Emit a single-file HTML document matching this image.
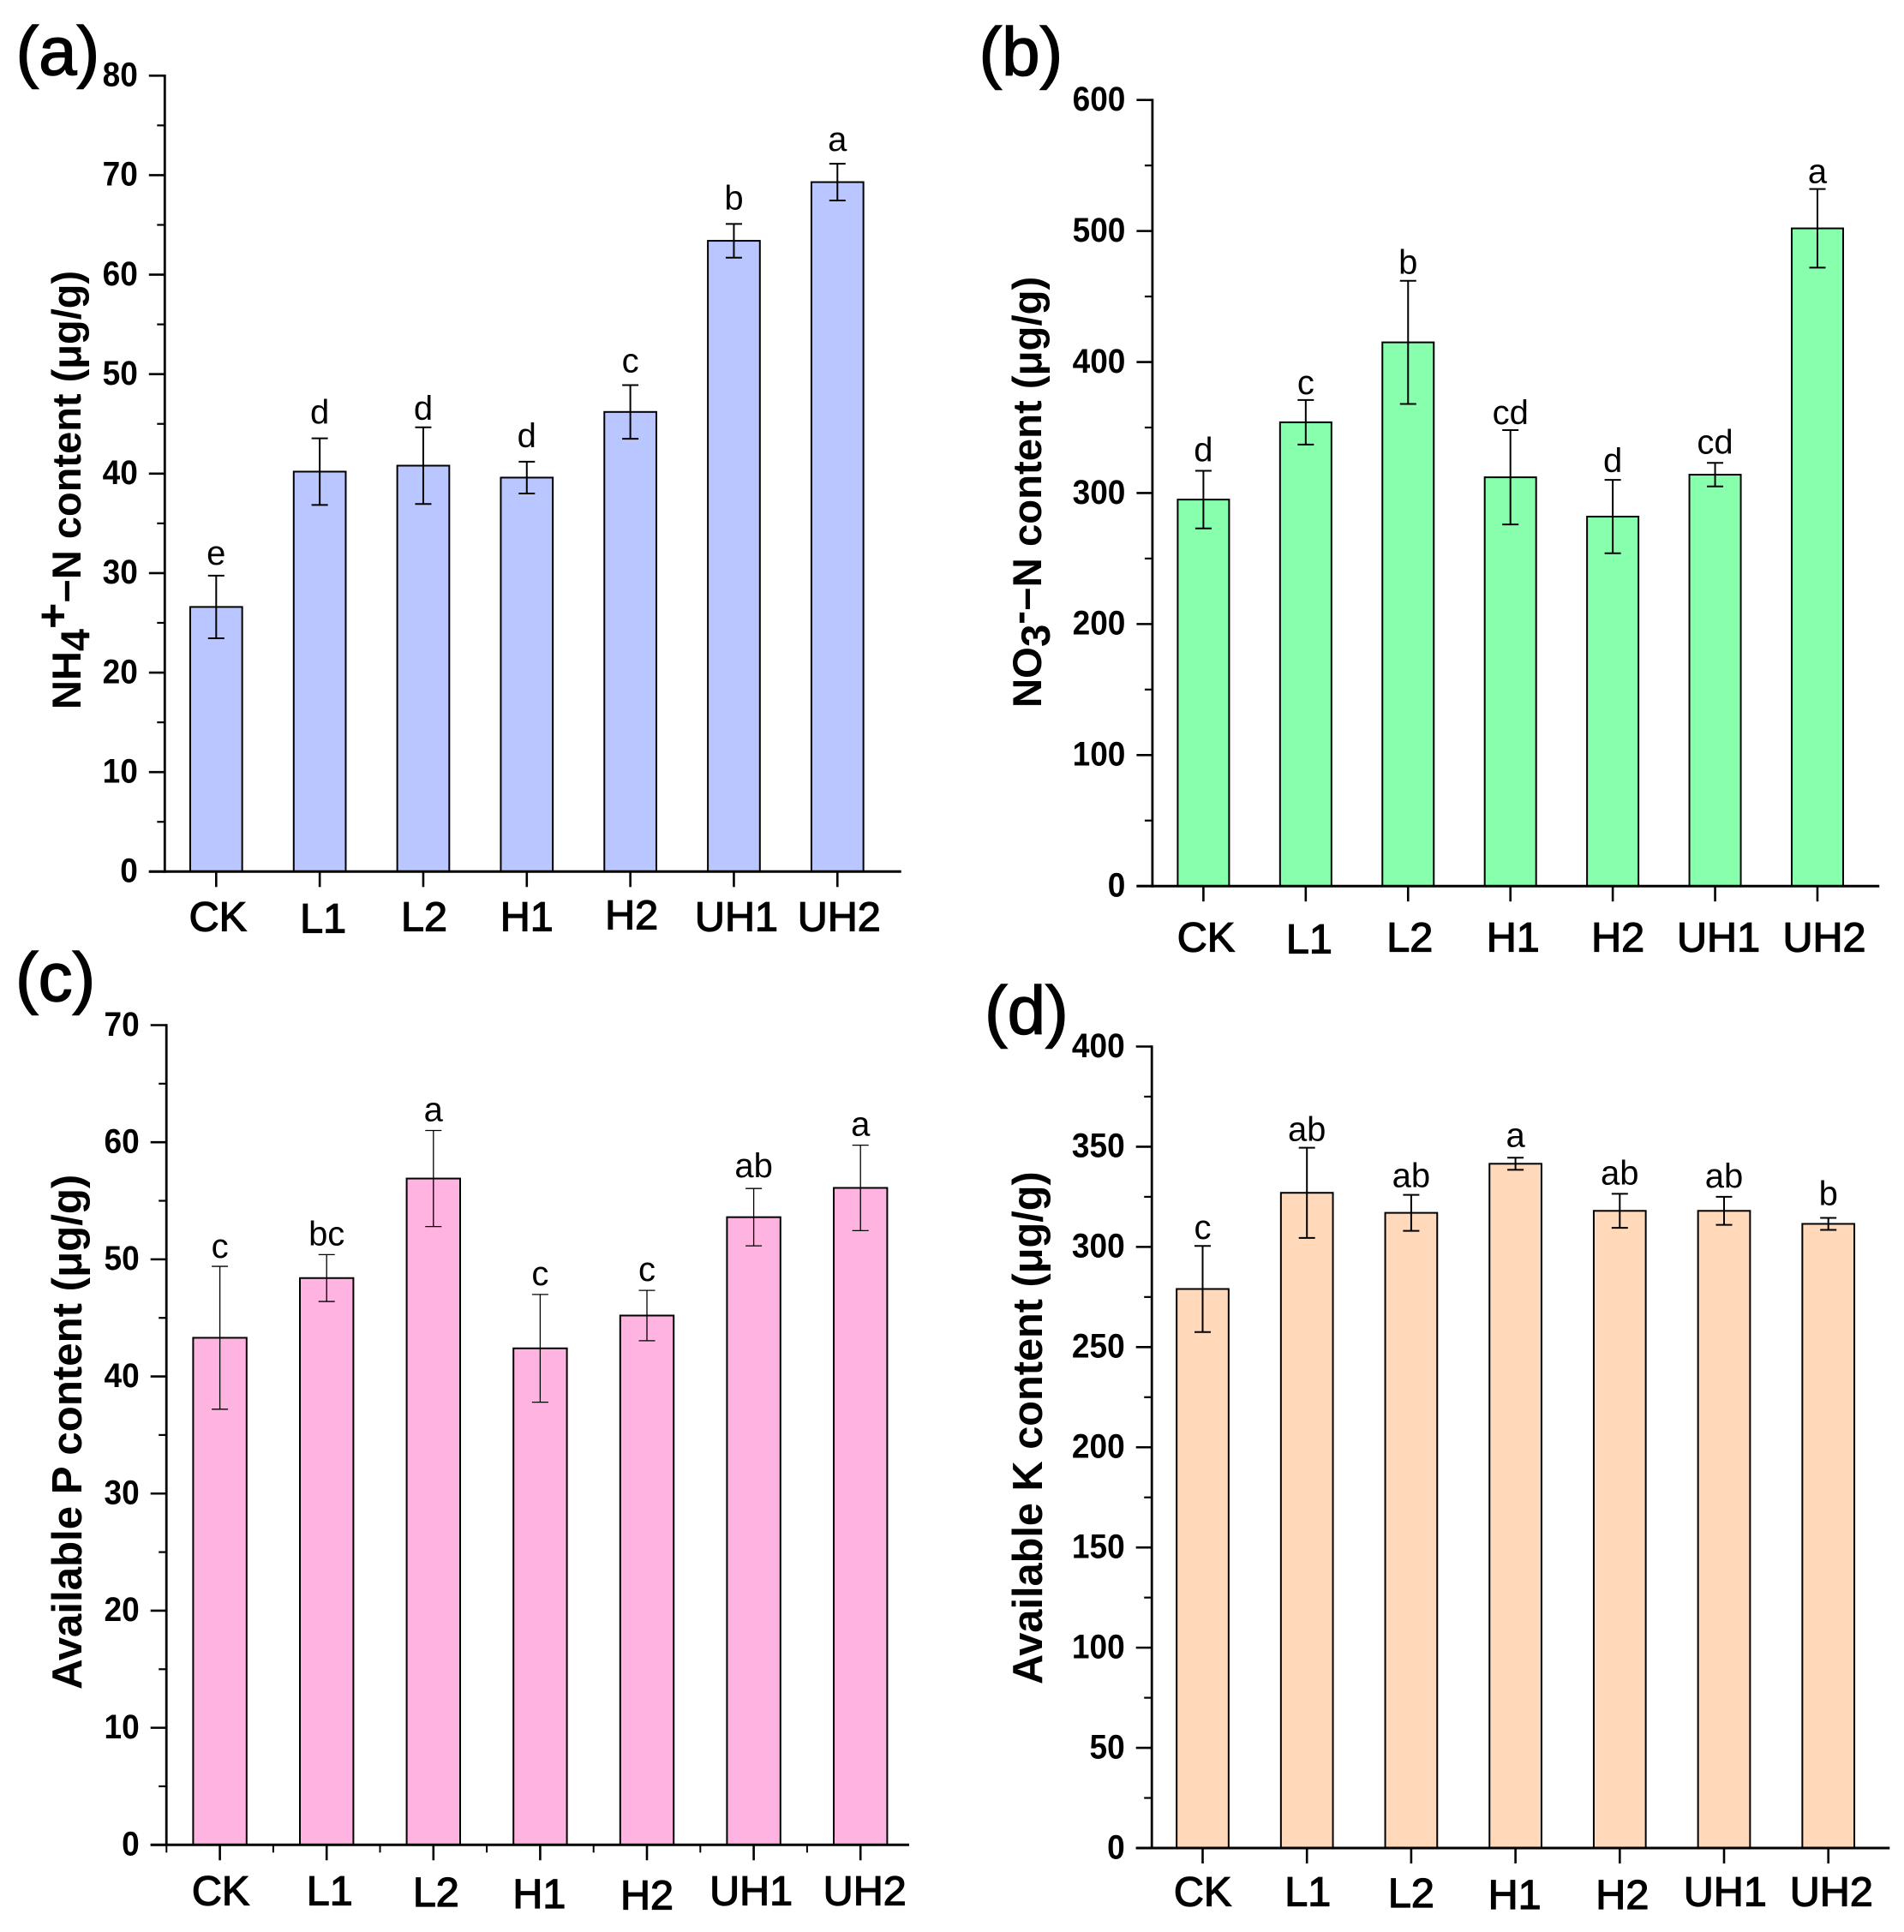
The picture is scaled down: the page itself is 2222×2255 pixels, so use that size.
<!DOCTYPE html>
<html lang="en">
<head>
<meta charset="utf-8">
<title>Soil nutrient content bar charts</title>
<style>
html,body{margin:0;padding:0;background:#fff;}
svg{display:block;font-family:"Liberation Sans",sans-serif;}
</style>
</head>
<body>
<svg id="figure" xmlns="http://www.w3.org/2000/svg" width="2222" height="2255" viewBox="0 0 2222 2255">
<rect x="0" y="0" width="2222" height="2255" fill="#ffffff"/>
<g font-weight="700" fill="#000">
<text font-size="47" transform="translate(94 828) rotate(-90)">NH<tspan dy="10">4</tspan><tspan dy="-25" font-size="52">+</tspan><tspan dy="15">−N content (μg/g)</tspan></text>
<text font-size="47.3" transform="translate(1215 826) rotate(-90)">NO<tspan dy="10">3</tspan><tspan dy="-20">-</tspan><tspan dy="10">−N content (μg/g)</tspan></text>
<text font-size="49.2" transform="translate(95 1972) rotate(-90)">Available P content (μg/g)</text>
<text font-size="48.7" transform="translate(1216 1966) rotate(-90)">Available K content (μg/g)</text>
</g>
<g font-size="80" fill="#000" stroke="#000" stroke-width="1.4">
<text x="18.5" y="87">(a)</text>
<text x="1142.5" y="88">(b)</text>
<text x="18" y="1168">(c)</text>
<text x="1149" y="1207">(d)</text>
</g>
</svg>
<script>
const categories = ['CK', 'L1', 'L2', 'H1', 'H2', 'UH1', 'UH2'];

const aTicks = [0, 10, 20, 30, 40, 50, 60, 70, 80];
const aValues = [26.6, 40.2, 40.8, 39.6, 46.2, 63.4, 69.3];
const aErrors = [3.15, 3.35, 3.85, 1.6, 2.7, 1.7, 1.85];
const aLetters = ['e', 'd', 'd', 'd', 'c', 'b', 'a'];

const bTicks = [0, 100, 200, 300, 400, 500, 600];
const bValues = [295, 354, 415, 312, 282, 314, 502];
const bErrors = [22, 17, 47, 36, 28, 9, 30];
const bLetters = ['d', 'c', 'b', 'cd', 'd', 'cd', 'a'];

const cTicks = [0, 10, 20, 30, 40, 50, 60, 70];
const cValues = [43.3, 48.4, 56.9, 42.4, 45.2, 53.6, 56.1];
const cErrors = [6.1, 2, 4.1, 4.6, 2.15, 2.45, 3.65];
const cLetters = ['c', 'bc', 'a', 'c', 'c', 'ab', 'a'];

const dTicks = [0, 50, 100, 150, 200, 250, 300, 350, 400];
const dValues = [279, 327, 317, 341.5, 318, 318, 311.5];
const dErrors = [21.5, 22.5, 9, 3, 8.5, 7, 3];
const dLetters = ['c', 'ab', 'ab', 'a', 'ab', 'ab', 'b'];

const panels = [
  { id: 'a', ticks: aTicks, values: aValues, errors: aErrors, letters: aLetters,
    fill: '#B9C6FF', axisX: 192.3, y0: 1017.3, yTop: 88.3, xEnd: 1051.7, cat0: 252.3, catStep: 120.83,
    barW: 60.7, labelBase: 1086.7, letterGap: 14, errW: 2, minorX: false,
    letterDy: [1, -3, 5, -3, -1, -3, -1],
    catDx: [2, 4, 1, 0, 1.5, 3, 2], catDy: [0, 2, 0, 0, -2, 0, 0] },
  { id: 'b', ticks: bTicks, values: bValues, errors: bErrors, letters: bLetters,
    fill: '#88FFAD', axisX: 1344.9, y0: 1034.2, yTop: 116.7, xEnd: 2193.2, cat0: 1404.4, catStep: 119.43,
    barW: 60, labelBase: 1110.5, letterGap: 8, errW: 2, minorX: false,
    letterDy: [-3, 1, 0, 1, -1, -3, 1],
    catDx: [3, 4, 2, 3, 6, 4, 8], catDy: [0, 2, 0, 0, 0, 0, 0] },
  { id: 'c', ticks: cTicks, values: cValues, errors: cErrors, letters: cLetters,
    fill: '#FFB3E0', axisX: 194.2, y0: 2153.3, yTop: 1196.5, xEnd: 1061, cat0: 256.6, catStep: 124.6,
    barW: 62.4, labelBase: 2223.5, letterGap: 10, errW: 1.3, minorX: true,
    letterDy: [0, -1, -1, -1, -1, -3, -1],
    catDx: [1, 3.5, 3, -1, 0, -3, 5], catDy: [0, 0, 1.5, 3.5, 5, 0, 0] },
  { id: 'd', ticks: dTicks, values: dValues, errors: dErrors, letters: dLetters,
    fill: '#FFD9BA', axisX: 1344.2, y0: 2157, yTop: 1221.5, xEnd: 2205.3, cat0: 1403.5, catStep: 121.7,
    barW: 60.7, labelBase: 2224.3, letterGap: 8, errW: 2, minorX: false,
    letterDy: [0, 0, -1, -5, -3, -3, -7],
    catDx: [0, 1, 0, -1, 3, 1.3, 3.6], catDy: [0, 0, 1.5, 3.5, 3.5, 0, 0] }
];

const NS = 'http://www.w3.org/2000/svg';
const figure = document.getElementById('figure');

function make(parent, tag, props, text) {
  const el = document.createElementNS(NS, tag);
  for (const k in props) el.setAttribute(k, props[k]);
  if (text !== undefined) el.textContent = text;
  parent.appendChild(el);
  return el;
}

function drawPanel(p) {
  const maxTick = p.ticks[p.ticks.length - 1];
  const yScale = v => p.y0 - (v / maxTick) * (p.y0 - p.yTop);
  const xScale = i => p.cat0 + i * p.catStep;

  const g = make(figure, 'g', {});
  
  

  p.values.forEach((v, i) => {
    const cx = xScale(i);
    const bar = make(g, 'rect', {
      x: cx - p.barW / 2, y: yScale(v), width: p.barW, height: p.y0 - yScale(v),
      fill: p.fill, stroke: '#000', 'stroke-width': 2
    });
    
    

    const hi = yScale(v + p.errors[i]);
    const lo = yScale(v - p.errors[i]);
    const err = make(g, 'path', {
      d: 'M' + (cx - 9.5) + ' ' + hi + 'H' + (cx + 9.5) + 'M' + cx + ' ' + hi + 'V' + lo + 'M' + (cx - 9.5) + ' ' + lo + 'H' + (cx + 9.5),
      fill: 'none', stroke: '#000', 'stroke-width': p.errW
    });
    
    

    const letter = make(g, 'text', {
      x: cx, y: hi - p.letterGap + p.letterDy[i], 'text-anchor': 'middle', 'font-size': 40, fill: '#000'
    }, p.letters[i]);
    
    

    const tick = make(g, 'line', {
      x1: cx, x2: cx, y1: p.y0, y2: p.y0 + 18, stroke: '#000', 'stroke-width': 2.6
    });
    
    

    const label = make(g, 'text', {
      x: cx + p.catDx[i], y: p.labelBase + p.catDy[i], 'text-anchor': 'middle',
      'font-size': 48.5, fill: '#000', stroke: '#000', 'stroke-width': 1.3
    }, categories[i]);
    
    

    if (p.minorX) {
      const mx = cx - p.catStep / 2;
      const minor = make(g, 'line', {
        x1: mx, x2: mx, y1: p.y0, y2: p.y0 + 9, stroke: '#000', 'stroke-width': 2
      });
      
      
    }
  });

  p.ticks.forEach((t, i) => {
    const y = yScale(t);
    const tick = make(g, 'line', {
      x1: p.axisX - 18.5, x2: p.axisX, y1: y, y2: y, stroke: '#000', 'stroke-width': 2.6
    });
    
    

    const text = String(t);
    const label = make(g, 'text', {
      x: p.axisX - 31.5, y: y + 12.3, 'text-anchor': 'end', 'font-size': 40, 'font-weight': 700, fill: '#000',
      textLength: text.length * 20.6, lengthAdjust: 'spacingAndGlyphs'
    }, text);
    
    

    if (i < p.ticks.length - 1) {
      const my = yScale((t + p.ticks[i + 1]) / 2);
      const minor = make(g, 'line', {
        x1: p.axisX - 9, x2: p.axisX, y1: my, y2: my, stroke: '#000', 'stroke-width': 2.2
      });
      
      
    }
  });

  const yAxis = make(g, 'line', {
    x1: p.axisX, x2: p.axisX, y1: p.yTop - 1.3, y2: p.y0 + 1.5, stroke: '#000', 'stroke-width': 2.8
  });
  
  

  const xAxis = make(g, 'line', {
    x1: p.axisX - 18.5, x2: p.xEnd, y1: p.y0, y2: p.y0, stroke: '#000', 'stroke-width': 3
  });
  
  
}

panels.forEach(drawPanel);
</script>
</body>
</html>
